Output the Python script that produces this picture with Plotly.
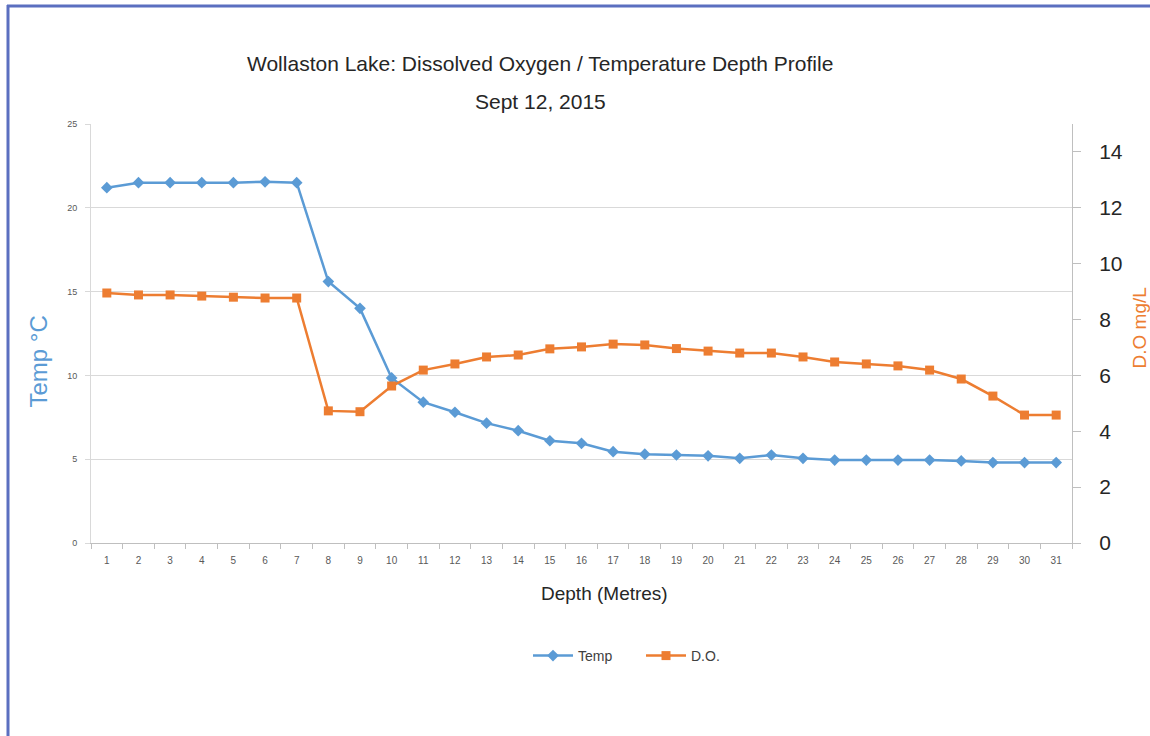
import plotly.graph_objects as go

depth = [str(i) for i in range(1, 32)]
temp = [21.2, 21.5, 21.5, 21.5, 21.5, 21.55, 21.5, 15.6, 14.0, 9.85, 8.4, 7.8, 7.15, 6.7, 6.1, 5.95,
        5.45, 5.3, 5.25, 5.2, 5.05, 5.25, 5.05, 4.95, 4.95, 4.95, 4.95, 4.9, 4.8, 4.8, 4.8]
do_mgl = [8.95, 8.88, 8.88, 8.84, 8.8, 8.77, 8.77, 4.73, 4.7, 5.62, 6.19, 6.41, 6.66, 6.73, 6.95, 7.02,
          7.12, 7.09, 6.96, 6.87, 6.8, 6.8, 6.66, 6.48, 6.41, 6.34, 6.19, 5.87, 5.26, 4.58, 4.58]

BLUE = "#5B9BD5"
ORANGE = "#ED7D31"
FONT = "Liberation Sans, Arial, sans-serif"

fig = go.Figure()
fig.add_trace(go.Scatter(x=depth, y=temp, name="Temp", mode="lines+markers",
                         line=dict(color=BLUE, width=2.5),
                         marker=dict(symbol="diamond", size=9, color=BLUE), yaxis="y"))
fig.add_trace(go.Scatter(x=depth, y=do_mgl, name="D.O.", mode="lines+markers",
                         line=dict(color=ORANGE, width=2.5),
                         marker=dict(symbol="square", size=9, color=ORANGE), yaxis="y2"))

L, R, T, B = 91, 78, 124, 193
W, H = 1150, 736
pw, ph = W - L - R, H - T - B

def px(x):
    return (x - L) / pw

def py(y):
    return (H - B - y) / ph

fig.update_layout(
    width=W, height=H,
    margin=dict(l=L, r=R, t=T, b=B),
    paper_bgcolor="white", plot_bgcolor="white",
    font=dict(family=FONT, color="#404040"),
    xaxis=dict(type="category", tickson="boundaries", ticks="outside", ticklen=5,
               range=[-0.5, 30.5], autorange=False,
               tickcolor="#bfbfbf", showline=True, linecolor="#bfbfbf", linewidth=1,
               showgrid=False, ticklabelstandoff=8, tickfont=dict(size=10, color="#595959")),
    yaxis=dict(range=[0, 25], dtick=5, showgrid=True, gridcolor="#d9d9d9", gridwidth=1,
               showline=True, linecolor="#d9d9d9", ticks="outside", ticklen=5, tickcolor="#d9d9d9",
               ticklabelstandoff=6, tickfont=dict(size=9, color="#595959"), zeroline=False),
    yaxis2=dict(range=[0, 15], dtick=2, overlaying="y", side="right", showgrid=False,
                showline=True, linecolor="#bfbfbf", ticks="outside", ticklen=8, tickcolor="#bfbfbf",
                ticklabelstandoff=14, tickfont=dict(size=21, color="#262626"), zeroline=False),
    showlegend=True,
    legend=dict(orientation="h", x=px(528), y=py(656), xanchor="left", yanchor="middle",
                entrywidth=58, entrywidthmode="pixels", itemwidth=40,
                font=dict(size=14, color="#404040")),
    annotations=[
        dict(text="Wollaston Lake: Dissolved Oxygen / Temperature Depth Profile", x=px(540), y=py(50),
             xref="paper", yref="paper", showarrow=False, font=dict(size=21, color="#262626")),
        dict(text="Sept 12, 2015", x=px(540), y=py(88), xref="paper", yref="paper",
             showarrow=False, font=dict(size=21, color="#262626")),
        dict(text="Depth (Metres)", x=px(604), y=py(606), xref="paper", yref="paper",
             showarrow=False, font=dict(size=19, color="#262626")),
        dict(text="Temp °C", x=px(22), y=py(362), xref="paper", yref="paper", textangle=-90,
             showarrow=False, font=dict(size=24, color=BLUE)),
        dict(text="D.O mg/L", x=px(1151), y=py(328), xref="paper", yref="paper", textangle=-90,
             showarrow=False, font=dict(size=19, color=ORANGE)),
    ],
    shapes=[
        dict(type="line", xref="paper", yref="paper", x0=px(8), x1=px(8), y0=py(5), y1=py(740),
             line=dict(color="#5B6FC0", width=3)),
        dict(type="line", xref="paper", yref="paper", x0=px(7), x1=px(1150), y0=py(6), y1=py(6),
             line=dict(color="#5B6FC0", width=3)),
    ],
)

fig.write_html("out.html", config={"displayModeBar": False},
               post_script="document.body.style.margin='0';")
